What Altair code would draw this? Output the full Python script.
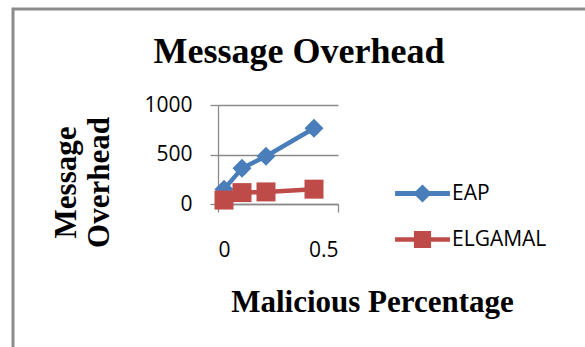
import altair as alt
import pandas as pd

# ---- data ----
malicious = [0.025, 0.1, 0.2, 0.4]
eap = [150, 360, 482, 765]
elgamal = [40, 115, 122, 150]
series_names = ["EAP", "ELGAMAL"]
series_colors = ["#4A7EBB", "#BE4B48"]
x_ticks = [0, 0.5]
y_ticks = [0, 500, 1000]

rows = []
for name, vals in zip(series_names, [eap, elgamal]):
    for xv, yv in zip(malicious, vals):
        rows.append({"Malicious": xv, "Overhead": yv, "Series": name, "Key": name})
df = pd.DataFrame(rows)

GRID = "#8a8a8a"
SANS = "Open Sans"
SERIF = "Liberation Serif"

# legend symbols: line with marker (custom paths)
diamond_leg = ("M-1.12,-0.1L-0.27,-0.1L0,-0.37L0.27,-0.1L1.12,-0.1L1.12,0.1"
               "L0.27,0.1L0,0.37L-0.27,0.1L-1.12,0.1Z")
square_leg = ("M-1.12,-0.09L-0.35,-0.09L-0.35,-0.35L0.35,-0.35L0.35,-0.09L1.12,-0.09"
              "L1.12,0.09L0.35,0.09L0.35,0.35L-0.35,0.35L-0.35,0.09L-1.12,0.09Z")

xenc = alt.X("Malicious:Q",
             scale=alt.Scale(domain=[0, 0.5], nice=False, zero=True),
             axis=alt.Axis(values=x_ticks, format="~g", grid=False,
                           title="Malicious Percentage",
                           titleX=154, titleY=107, titleAlign="center",
                           titleBaseline="alphabetic", titleAnchor=None))
yenc = alt.Y("Overhead:Q",
             scale=alt.Scale(domain=[0, 1000], nice=False),
             axis=alt.Axis(values=y_ticks, format="d", grid=True,
                           title=["Message", "Overhead"],
                           titleX=-143, titleY=77, titleAlign="center",
                           titleBaseline="alphabetic", titleAngle=270,
                           titleLineHeight=33))
color = alt.Color("Series:N",
                  scale=alt.Scale(domain=series_names, range=series_colors),
                  legend=None)

lines = alt.Chart(df).transform_filter(
    alt.datum.Series == "EAP").mark_line(
    strokeWidth=4.5, strokeCap="round", strokeJoin="round").encode(
    x=xenc, y=yenc, color=color)

pts_eap = alt.Chart(df).transform_filter(
    alt.datum.Series == "EAP").mark_point(
    shape="diamond", filled=True, opacity=1, size=361).encode(
    x="Malicious:Q", y="Overhead:Q", color=color)

lines_el = alt.Chart(df).transform_filter(
    alt.datum.Series == "ELGAMAL").mark_line(
    strokeWidth=4.5, strokeCap="round", strokeJoin="round").encode(
    x="Malicious:Q", y="Overhead:Q", color=color)

pts_el = alt.Chart(df).transform_filter(
    alt.datum.Series == "ELGAMAL").mark_point(
    shape="square", filled=True, opacity=1, size=361).encode(
    x="Malicious:Q", y="Overhead:Q", color=color)

leg = dict(title=None, orient="none", legendX=180, legendY=64,
           symbolSize=2401, symbolStrokeWidth=0,
           labelFont=SANS, labelFontSize=21, labelColor="#000000",
           labelOffset=5, rowPadding=11, padding=0)

legend_layer = alt.Chart(df).transform_filter("false").mark_point(
    filled=True, opacity=1).encode(
    x="Malicious:Q", y="Overhead:Q",
    color=alt.Color("Key:N",
                    scale=alt.Scale(domain=series_names, range=series_colors),
                    legend=alt.Legend(**leg)),
    shape=alt.Shape("Key:N",
                    scale=alt.Scale(domain=series_names,
                                    range=[diamond_leg, square_leg]),
                    legend=alt.Legend(**leg)))

frame = alt.Chart(pd.DataFrame({"k": [0]})).mark_rect(
    fill=None, stroke="#8c8c8c", strokeWidth=3, clip=False).encode(
    x=alt.value(-205), x2=alt.value(380), y=alt.value(-96), y2=alt.value(260))

chart = alt.layer(frame, lines, pts_eap, lines_el, pts_el, legend_layer).resolve_scale(
    color="independent", shape="independent"
).properties(
    width=120, height=99,
    padding={"left": 218, "top": 105, "right": 247, "bottom": 143},
    autosize=alt.AutoSizeParams(type="none"),
    background="white",
    title=alt.Title("Message Overhead", font=SERIF, fontSize=36,
                    fontWeight="bold", color="#000000", anchor="middle",
                    frame="group", dx=21, offset=-91, baseline="alphabetic"),
).configure_view(stroke=None).configure_axis(
    domainColor=GRID, domainWidth=1.3, tickColor=GRID, tickWidth=1.3,
    tickSize=8, gridColor=GRID, gridWidth=1.3,
    labelFont=SANS, labelFontSize=21, labelColor="#000000",
    titleFont=SERIF, titleFontWeight="bold", titleColor="#000000",
).configure_axisX(
    labelPadding=27, titleFontSize=31,
).configure_axisY(
    labelPadding=18, titleFontSize=31,
)

chart.save("out.html", embed_options={"renderer": "svg", "actions": False})
